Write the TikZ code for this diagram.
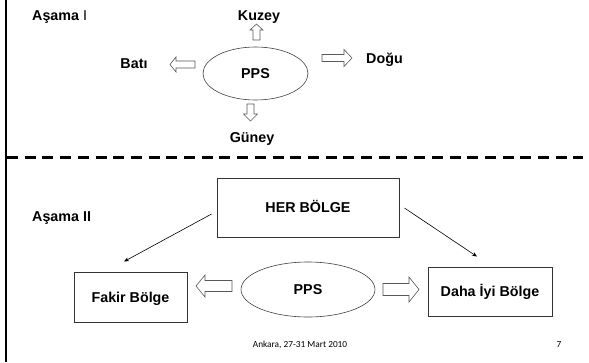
\documentclass[tikz,border=0pt]{standalone}
\usepackage{fontspec}
\setmainfont{Liberation Sans}
\newfontfamily\footfont{Carlito}
\usetikzlibrary{arrows.meta,shapes.geometric}

\tikzset{
  lbl/.style={inner sep=0pt, font=\fontsize{14.3}{17}\selectfont\bfseries,
    text height=10.2pt, text depth=0pt},
  boxnode/.style={draw=black!80, line width=0.9pt, inner sep=0pt,
    font=\fontsize{14.3}{17}\selectfont\bfseries, text height=10.2pt, text depth=0pt},
  ovalnode/.style={draw=black!75, line width=0.6pt, ellipse, inner sep=0pt,
    font=\fontsize{14.3}{17}\selectfont\bfseries, text height=10.2pt, text depth=0pt},
  barrow/.style={draw=black!65, line width=0.6pt, fill=white, line join=miter},
  conn/.style={draw=black, line width=0.6pt, -{Stealth[length=5pt,width=4pt]}},
  divider/.style={line width=2.6pt, dash pattern=on 11pt off 6.7pt},
  footer/.style={inner sep=0pt, font=\footfont\fontsize{9.3}{11}\selectfont},
  % hollow block arrow pointing along +x from its tail:
  % #1 length, #2 shaft half width, #3 head half width, #4 head length
  pics/blockarrow/.style n args={4}{code={
    \path[barrow] (0,-#2) -- (#1-#4,-#2) -- (#1-#4,-#3) -- (#1,0)
      -- (#1-#4,#3) -- (#1-#4,#2) -- (0,#2) -- cycle;
  }}
}

\begin{document}
\begin{tikzpicture}[x=1pt,y=1pt]
  \useasboundingbox (0,0) rectangle (589,-362);

  % frame edge and stage divider
  \draw[line width=2.4pt] (6,0) -- (6,-362);
  \draw[divider] (7,-157.7) -- (583,-157.7);

  % ---- Stage I ----
  \node[lbl, anchor=west] (st1) at (32,-15) {Aşama {\mdseries I}};
  \node[ovalnode, minimum width=105pt, minimum height=53pt] (pps1) at (255.5,-73.5) {PPS};
  \node[lbl] (kuzey) at (259,-15) {Kuzey};
  \node[lbl] (guney) at (252,-137) {Güney};
  \node[lbl] (bati) at (134,-63) {Batı};
  \node[lbl, anchor=west] (dogu) at (366,-58) {Doğu};

  \pic[rotate=90]  at (256.5,-40) {blockarrow={16}{3.5}{6.5}{6}};
  \pic[rotate=-90] at (250.5,-104) {blockarrow={17}{3.5}{7}{7}};
  \pic[rotate=180] at (195,-64.5) {blockarrow={25}{3.5}{7.5}{6}};
  \pic             at (322,-58)   {blockarrow={30}{3.5}{8.5}{8}};

  % ---- Stage II ----
  \node[lbl, anchor=west] (st2) at (32,-216) {Aşama II};
  \node[boxnode, minimum width=182pt, minimum height=59pt] (her) at (308,-207.5) {HER BÖLGE};
  \node[boxnode, minimum width=113pt, minimum height=50pt] (fakir) at (130.5,-297) {Fakir Bölge};
  \node[boxnode, minimum width=124pt, minimum height=49pt] (daha) at (490,-291.5) {Daha İyi Bölge};
  \node[ovalnode, minimum width=134pt, minimum height=55pt] (pps2) at (308,-289.5) {PPS};

  \pic[rotate=180] at (232,-286) {blockarrow={36}{5.5}{11}{9}};
  \pic             at (383,-289.5) {blockarrow={36}{6}{12.5}{10}};

  \draw[conn] ([shift={(-5,-6.5)}]her.west) -- ([shift={(-6.5,10)}]fakir.north);
  \draw[conn] ([shift={(5,-0.5)}]her.east) -- ([shift={(-13,10)}]daha.north);

  % footer
  \node[footer] (place) at (300,-345) {Ankara, 27-31 Mart 2010};
  \node[footer] (page) at (559,-345) {7};
\end{tikzpicture}
\end{document}
